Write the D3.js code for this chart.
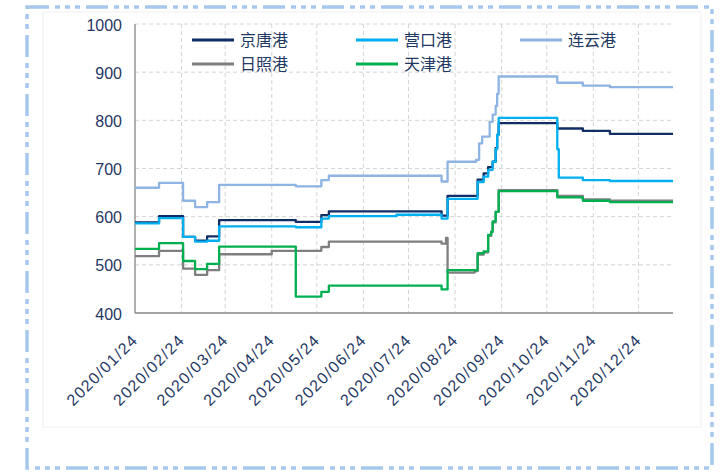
<!DOCTYPE html>
<html>
<head>
<meta charset="utf-8">
<script src="https://cdn.jsdelivr.net/npm/d3@7"></script>
<style>
  body { margin: 0; background: #fff; }
  svg { display: block; }
</style>
</head>
<body>
<div id="chart"></div>
<script>
// Port names (legend order) and colours
const ports = ["京唐港", "营口港", "连云港", "日照港", "天津港"];
const portColors = ["#112d66", "#00b0f0", "#8db4e2", "#7f7f7f", "#00b050"];

// Step data: [date the value starts, value]
const jingtang = [
  ["2020-01-24", 588], ["2020-02-09", 601], ["2020-02-25", 558], ["2020-03-04", 550],
  ["2020-03-12", 559], ["2020-03-20", 593], ["2020-05-10", 589], ["2020-05-27", 603],
  ["2020-06-01", 611], ["2020-08-15", 602], ["2020-08-19", 643], ["2020-09-08", 677],
  ["2020-09-12", 690], ["2020-09-15", 703], ["2020-09-18", 714], ["2020-09-20", 742],
  ["2020-09-21", 770], ["2020-09-22", 794], ["2020-10-31", 783], ["2020-11-17", 778],
  ["2020-12-05", 772], ["2021-01-16", 772]
];
const yingkou = [
  ["2020-01-24", 586], ["2020-02-09", 597], ["2020-02-25", 558], ["2020-03-04", 548],
  ["2020-03-12", 550], ["2020-03-20", 580], ["2020-05-10", 578], ["2020-05-27", 596],
  ["2020-06-01", 601], ["2020-07-16", 604], ["2020-08-15", 596], ["2020-08-19", 637],
  ["2020-09-08", 672], ["2020-09-12", 683], ["2020-09-15", 697], ["2020-09-18", 714],
  ["2020-09-20", 740], ["2020-09-21", 770], ["2020-09-22", 805], ["2020-10-31", 740],
  ["2020-11-01", 681], ["2020-11-17", 676], ["2020-12-05", 674], ["2021-01-16", 674]
];
const lianyun = [
  ["2020-01-24", 660], ["2020-02-09", 670], ["2020-02-25", 633], ["2020-03-04", 620],
  ["2020-03-12", 630], ["2020-03-20", 666], ["2020-05-10", 663], ["2020-05-27", 676],
  ["2020-06-01", 685], ["2020-08-15", 673], ["2020-08-19", 714], ["2020-09-07", 718],
  ["2020-09-09", 752], ["2020-09-11", 766], ["2020-09-16", 797], ["2020-09-18", 812],
  ["2020-09-20", 830], ["2020-09-21", 855], ["2020-09-22", 891], ["2020-10-31", 878],
  ["2020-11-17", 872], ["2020-12-05", 869], ["2021-01-16", 869]
];
const rizhao = [
  ["2020-01-24", 518], ["2020-02-09", 529], ["2020-02-25", 492], ["2020-03-04", 479],
  ["2020-03-12", 489], ["2020-03-20", 522], ["2020-04-24", 529], ["2020-05-27", 537],
  ["2020-06-01", 548], ["2020-08-15", 544], ["2020-08-18", 556], ["2020-08-19", 484],
  ["2020-09-06", 487], ["2020-09-08", 521], ["2020-09-12", 526], ["2020-09-15", 560],
  ["2020-09-17", 568], ["2020-09-18", 588], ["2020-09-20", 610], ["2020-09-22", 655],
  ["2020-10-31", 643], ["2020-11-17", 636], ["2020-12-05", 633], ["2021-01-16", 633]
];
const tianjin = [
  ["2020-01-24", 533], ["2020-02-09", 545], ["2020-02-25", 508], ["2020-03-04", 491],
  ["2020-03-12", 502], ["2020-03-20", 538], ["2020-05-10", 434], ["2020-05-27", 444],
  ["2020-06-01", 457], ["2020-08-15", 449], ["2020-08-19", 489], ["2020-09-08", 524],
  ["2020-09-12", 528], ["2020-09-15", 562], ["2020-09-17", 569], ["2020-09-18", 590],
  ["2020-09-20", 610], ["2020-09-22", 653], ["2020-10-31", 640], ["2020-11-17", 633],
  ["2020-12-05", 630], ["2021-01-16", 630]
];
const seriesData = [jingtang, yingkou, lianyun, rizhao, tianjin];

const xTickLabels = ["2020/01/24", "2020/02/24", "2020/03/24", "2020/04/24", "2020/05/24", "2020/06/24",
  "2020/07/24", "2020/08/24", "2020/09/24", "2020/10/24", "2020/11/24", "2020/12/24"];
const yTicks = [400, 500, 600, 700, 800, 900, 1000];
const xDomain = ["2020-01-24", "2021-01-16"];

const W = 720, H = 473;
const plot = { left: 135, right: 673, top: 24, bottom: 313 };
const navy = "#1f3864";

const parse = d3.timeParse("%Y-%m-%d");
const parseLabel = d3.timeParse("%Y/%m/%d");

const svg = d3.select("#chart").append("svg")
  .attr("width", W).attr("height", H);

svg.append("rect").attr("width", W).attr("height", H).attr("fill", "#fff");

// faint chart-area frame
svg.append("rect")
  .attr("x", 43).attr("y", 12).attr("width", 658).attr("height", 415)
  .attr("fill", "none").attr("stroke", "#f0f0f0").attr("stroke-width", 1);

// outer dashed border
svg.append("rect")
  .attr("x", 27).attr("y", 7).attr("width", 685).attr("height", 461)
  .attr("fill", "none").attr("stroke", "#a6c8ec").attr("stroke-width", 3.5)
  .attr("stroke-dasharray", "22,6,5,5,5,5,5,6");

const x = d3.scaleTime()
  .domain(xDomain.map(parse))
  .range([plot.left, plot.right]);

const y = d3.scaleLinear()
  .domain([400, 1000])
  .range([plot.bottom, plot.top]);

const tickDates = xTickLabels.map(parseLabel);

// gridlines
svg.append("g").selectAll("line")
  .data(yTicks.filter(v => v > 400))
  .enter().append("line")
  .attr("x1", plot.left).attr("x2", plot.right)
  .attr("y1", d => y(d)).attr("y2", d => y(d))
  .attr("stroke", "#d4d4d4").attr("stroke-width", 1)
  .attr("stroke-dasharray", "4,3");

svg.append("g").selectAll("line")
  .data(tickDates.slice(1))
  .enter().append("line")
  .attr("x1", d => x(d)).attr("x2", d => x(d))
  .attr("y1", plot.top).attr("y2", plot.bottom)
  .attr("stroke", "#d4d4d4").attr("stroke-width", 1)
  .attr("stroke-dasharray", "4,3");

// axes lines
svg.append("line")
  .attr("x1", plot.left).attr("x2", plot.left)
  .attr("y1", plot.top).attr("y2", plot.bottom)
  .attr("stroke", "#868686").attr("stroke-width", 1.3);
svg.append("line")
  .attr("x1", plot.left).attr("x2", plot.right)
  .attr("y1", plot.bottom).attr("y2", plot.bottom)
  .attr("stroke", "#868686").attr("stroke-width", 1.3);

// y labels
svg.append("g").selectAll("text")
  .data(yTicks)
  .enter().append("text")
  .attr("x", plot.left - 13)
  .attr("y", d => y(d) + 1)
  .attr("dy", "0.35em")
  .attr("text-anchor", "end")
  .style("font-family", "'Liberation Sans', Arial, sans-serif")
  .style("font-size", "16px")
  .style("fill", navy)
  .text(d => d);

// x labels
svg.append("g").selectAll("text")
  .data(tickDates)
  .enter().append("text")
  .attr("transform", d => `translate(${x(d) + 4},${plot.bottom + 28}) rotate(-45)`)
  .attr("text-anchor", "end")
  .style("font-family", "'Liberation Sans', Arial, sans-serif")
  .style("font-size", "16px")
  .style("letter-spacing", "1.3px")
  .style("fill", navy)
  .text((d, i) => xTickLabels[i]);

// lines
const line = d3.line()
  .x(d => x(parse(d[0])))
  .y(d => y(d[1]))
  .curve(d3.curveStepAfter);

svg.append("g").selectAll("path")
  .data(seriesData)
  .enter().append("path")
  .attr("d", line)
  .attr("fill", "none")
  .attr("stroke", (d, i) => portColors[i])
  .attr("stroke-width", 2.3)
  .attr("stroke-linejoin", "round");

// legend, 3 columns x 2 rows
const legend = svg.append("g").selectAll("g")
  .data(ports)
  .enter().append("g")
  .attr("transform", (d, i) => `translate(${192 + (i % 3) * 164},${40 + Math.floor(i / 3) * 24})`);

legend.append("line")
  .attr("x1", 0).attr("x2", 42)
  .attr("stroke", (d, i) => portColors[i])
  .attr("stroke-width", 3);

legend.append("text")
  .attr("x", 48)
  .attr("dy", "0.35em")
  .style("font-family", "'Noto Sans CJK SC', sans-serif")
  .style("font-size", "16px")
  .style("fill", navy)
  .text(d => d);
</script>
</body>
</html>
